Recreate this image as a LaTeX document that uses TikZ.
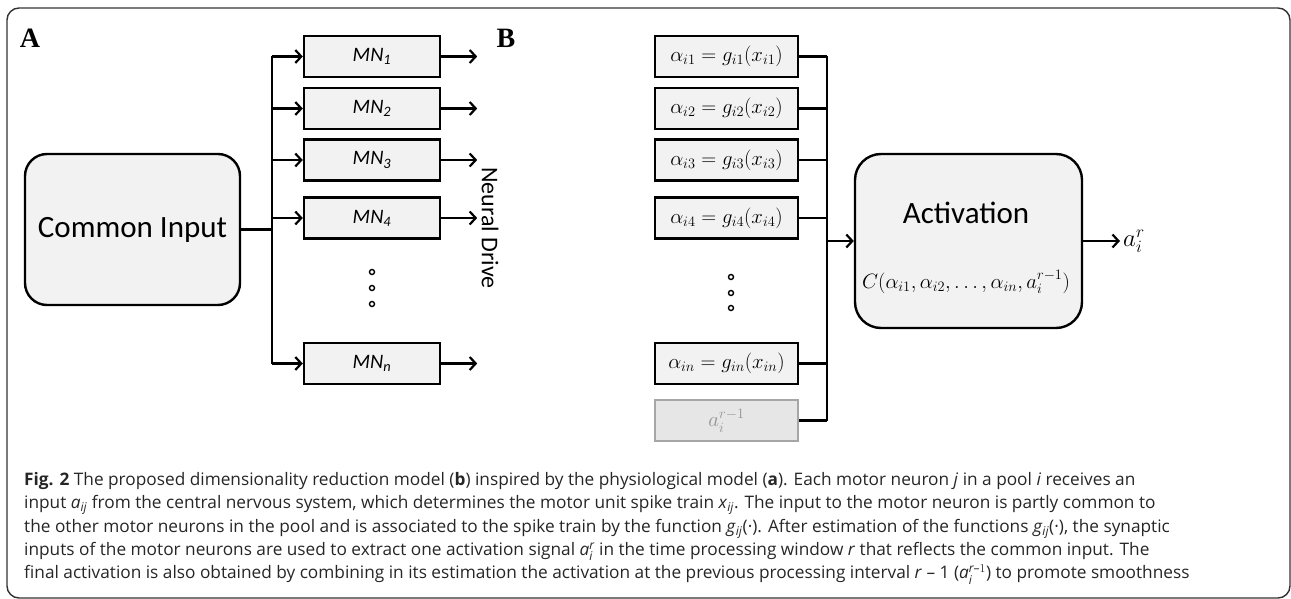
\documentclass[tikz,border=0pt]{standalone}
\usepackage{amsmath}
\usepackage{fontspec}
\setmainfont{Carlito}
\newfontfamily\capfont{Open Sans}
\newfontfamily\panelfont{Liberation Serif}
\usetikzlibrary{arrows.meta}
\definecolor{boxfill}{HTML}{F2F2F2}
\definecolor{prevfill}{HTML}{E6E6E6}
\definecolor{prevline}{HTML}{A6A6A6}
\definecolor{prevtext}{HTML}{949494}
\newcommand{\supsubtxt}[2]{$^{#1}_{\textit{#2}}$}
\begin{document}
\begin{tikzpicture}[x=1pt,y=-1pt,
    arr/.style={line width=2.2pt, -{Straight Barb[length=6pt,width=13pt]}},
    wire/.style={line width=2.2pt},
    mnbox/.style={draw, line width=2.4pt, fill=boxfill, minimum width=136pt, minimum height=41pt, inner sep=0pt, font=\fontsize{20.5}{20.5}\selectfont\itshape},
    gbox/.style={draw, line width=2.4pt, fill=boxfill, minimum width=143pt, minimum height=41pt, inner sep=0pt, font=\fontsize{21}{21}\selectfont},
    bigbox/.style={draw, line width=2.4pt, fill=boxfill, rounded corners=22pt, inner sep=0pt},
    dot/.style={circle, draw, line width=1.4pt, inner sep=0pt, minimum size=5pt}]
  \useasboundingbox (0,0) rectangle (1291,599);
  \draw[line width=1.4pt, black!80, rounded corners=12pt] (7,8) rectangle (1290,598);

  \node[font=\panelfont\bfseries\fontsize{28}{28}\selectfont] (pa) at (30,38) {A};
  \node[font=\panelfont\bfseries\fontsize{28}{28}\selectfont] (pb) at (506,38) {B};

  % panel A
  \node[bigbox, minimum width=215pt, minimum height=151pt, font=\fontsize{31}{31}\selectfont] (common) at (132.5,229.5) {Common Input};
  \coordinate (busL) at (272,229.5);
  \foreach \i/\y in {1/56.5,2/108.5,3/160,4/218} {
    \node[mnbox] (mn\i) at (372,\y) {MN\textsubscript{\i}};
    }
  \node[mnbox] (mnn) at (372,363.5) {MN\textsubscript{n}};
  \foreach \y in {272,288,304} {
    \node[dot] at (372,\y) {};
    }
  \draw[wire] (common.east) -- (busL);
  \draw[wire] (mn1.west -| busL) -- (mnn.west -| busL);
  \foreach \i in {1,2,3,4,n} {
    \draw[arr] (mn\i.west -| busL) -- (mn\i.west);
    \draw[arr] (mn\i.east) -- ++(36,0);
    }
  \node[rotate=-90, font=\fontsize{24}{24}\selectfont] (drive) at (490,228) {Neural Drive};

  % panel B
  \foreach \i/\y in {1/56.5,2/108.5,3/160,4/218} {
    \node[gbox] (al\i) at (726.5,\y) {$\alpha_{i\i}=g_{i\i}(x_{i\i})$};
    }
  \node[gbox] (aln) at (726.5,363.5) {$\alpha_{in}=g_{in}(x_{in})$};
  \node[gbox, fill=prevfill, draw=prevline, text=prevtext] (prev) at (726.5,420.5) {$a_i^{r-1}$};
  \foreach \y in {277,293,308} {
    \node[dot] at (731,\y) {};
    }
  \coordinate (busR) at (827,241);
  \draw[wire] (al1.east -| busR) -- (prev.east -| busR);
  \foreach \i in {1,2,3,4,n} {
    \draw[wire] (al\i.east) -- (al\i.east -| busR);
    }
  \draw[wire] (prev.east) -- (prev.east -| busR);

  \node[bigbox, rounded corners=26pt, minimum width=227pt, minimum height=174pt] (act) at (968.5,241) {};
  \node[font=\fontsize{31}{31}\selectfont] (acttxt) at (966,213) {Activation};
  \node[font=\fontsize{19.5}{19.5}\selectfont] (actfn) at (966,282) {$C(\alpha_{i1},\alpha_{i2},\ldots,\alpha_{in},a_i^{r-1})$};
  \draw[arr] (busR) -- (act.west);
  \node[anchor=west, inner sep=3pt, font=\fontsize{27}{27}\selectfont] (out) at (1120,241) {$a_i^r$};
  \draw[arr] (act.east) -- (out.west);

  % caption
  \node[anchor=north west, align=left, inner sep=0pt, text=black!85,
        font=\capfont\fontsize{17.25}{23.4}\selectfont] (cap) at (24,472) {%
    \textbf{Fig. 2} The proposed dimensionality reduction model (\textbf{b}) inspired by the physiological model (\textbf{a}). Each motor neuron \textit{j} in a pool \textit{i} receives an\\
    input \textit{a}\textsubscript{\textit{ij}} from the central nervous system, which determines the motor unit spike train \textit{x}\textsubscript{\textit{ij}}. The input to the motor neuron is partly common to\\
    the other motor neurons in the pool and is associated to the spike train by the function \textit{g}\textsubscript{\textit{ij}}(·). After estimation of the functions \textit{g}\textsubscript{\textit{ij}}(·), the synaptic\\
    inputs of the motor neurons are used to extract one activation signal \textit{a}\supsubtxt{\textit{r}}{i} in the time processing window \textit{r} that reflects the common input. The\\
    final activation is also obtained by combining in its estimation the activation at the previous processing interval \textit{r} – 1 (\textit{a}\supsubtxt{\textit{r}\text{–}1}{i}) to promote smoothness};
\end{tikzpicture}
\end{document}
